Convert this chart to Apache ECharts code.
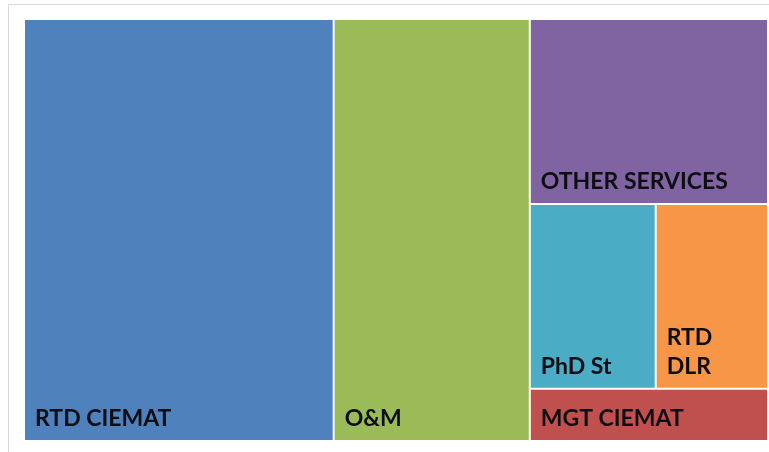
<!DOCTYPE html>
<html>
<head>
<meta charset="utf-8">
<script src="https://cdn.jsdelivr.net/npm/echarts@6/dist/echarts.min.js"></script>
<style>
html,body{margin:0;padding:0;background:#fff;}
#chart{width:769px;height:452px;}
</style>
</head>
<body>
<div id="chart"></div>
<script>
// Data (relative areas)
const categories = ['RTD CIEMAT', 'O&M', 'OTHER SERVICES', 'PhD St', 'RTD DLR', 'MGT CIEMAT'];
const values = [416, 263.5, 140.2, 74.1, 66.1, 39.6];
const palette = ['#4F81BD', '#9BBB59', '#8064A2', '#4BACC6', '#F79646', '#C0504D'];

function leaf(i, extra) {
  const n = { name: categories[i], value: values[i], itemStyle: { color: palette[i] } };
  return Object.assign(n, extra || {});
}

const treeData = [
  leaf(0),
  leaf(1),
  {
    name: 'rest',
    children: [
      {
        name: 'upper',
        children: [
          leaf(2),
          { name: 'mid', children: [leaf(3), leaf(4, { label: { formatter: function (p) { return p.name.split(' ').join('\n'); } } })] }
        ]
      },
      leaf(5)
    ]
  }
];

const chart = echarts.init(document.getElementById('chart'));
chart.setOption({
  backgroundColor: '#fff',
  animation: false,
  graphic: [{
    type: 'rect',
    silent: true,
    shape: { x: 8.5, y: 4.5, width: 800, height: 500 },
    style: { fill: 'none', stroke: '#d9d9d9', lineWidth: 1 }
  }],
  series: [{
    type: 'treemap',
    left: 25, top: 20, right: 2, bottom: 12,
    sort: false,
    squareRatio: 1,
    roam: false,
    nodeClick: false,
    breadcrumb: { show: false },
    itemStyle: { borderWidth: 0, gapWidth: 2, borderColor: '#fff' },
    upperLabel: { show: false },
    label: {
      show: true,
      position: 'insideBottomLeft',
      distance: 0,
      padding: [0, 0, 7, 10],
      color: '#0d0d14',
      fontFamily: 'Lato',
      fontWeight: 'bold',
      fontSize: 23,
      lineHeight: 29
    },
    emphasis: { disabled: true },
    data: treeData
  }]
});
</script>
</body>
</html>
